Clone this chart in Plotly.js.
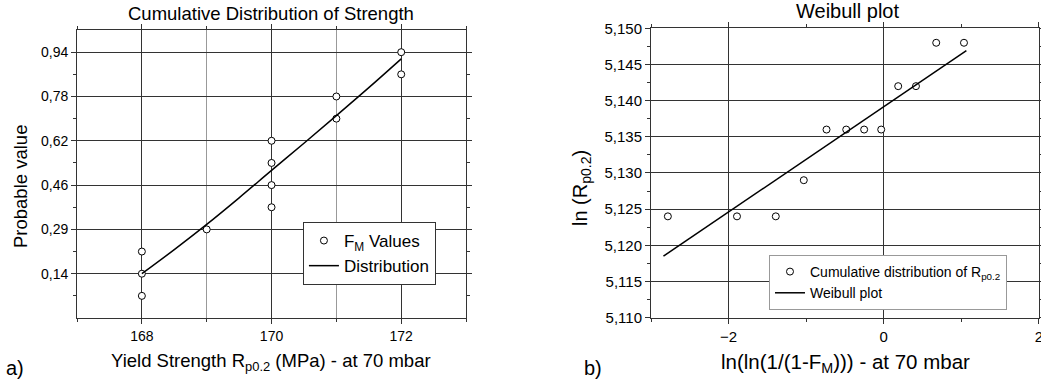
<!DOCTYPE html>
<html><head><meta charset="utf-8">
<script src="https://cdn.plot.ly/plotly-3.0.1.min.js"></script>
<style>html,body{margin:0;padding:0;background:#fff;}#chart{width:1041px;height:385px;}</style>
</head><body><div id="chart"></div>
<script>
// Panel a) data
const strengthX = [168,168,168,169,170,170,170,170,171,171,172,172];
const fmValues  = [0.06,0.14,0.22,0.30,0.38,0.46,0.54,0.62,0.70,0.78,0.86,0.94];
const distX = [168,168.5,169,169.5,170,170.5,171,171.5,172];
const distY = [0.14,0.227,0.318,0.414,0.513,0.611,0.711,0.812,0.916];
const aYTickVals = [0.14,0.30,0.46,0.62,0.78,0.94];
const aYTickText = ['0,14','0,29','0,46','0,62','0,78','0,94'];
const aXTickVals = [168,170,172];

// Panel b) data
const weibX = [-2.783,-1.892,-1.392,-1.031,-0.738,-0.484,-0.253,-0.033,0.186,0.415,0.676,1.034];
const weibY = [5.124,5.124,5.124,5.129,5.136,5.136,5.136,5.136,5.142,5.142,5.148,5.148];
const fitX = [-2.84,1.065];
const fitY = [5.1185,5.1469];

const FONT = 'Arial, "Liberation Sans", sans-serif';
const frame = {showline:true, linecolor:'#333', linewidth:1, mirror:'allticks', ticks:'outside', ticklen:5, tickcolor:'#333', zeroline:false, ticklabeloverflow:'allow'};

const traces = [
  {x:strengthX, y:fmValues, type:'scatter', mode:'markers', name:'F<sub>M</sub> Values', xaxis:'x', yaxis:'y',
   marker:{symbol:'circle', size:7, color:'#fff', line:{color:'#000', width:1}}, legend:'legend'},
  {x:distX, y:distY, type:'scatter', mode:'lines', name:'Distribution', xaxis:'x', yaxis:'y',
   line:{color:'#000', width:1.5, shape:'spline'}, legend:'legend'},
  {x:weibX, y:weibY, type:'scatter', mode:'markers', name:'Cumulative distribution of R<sub>p0.2</sub>', xaxis:'x2', yaxis:'y2',
   marker:{symbol:'circle', size:7, color:'#fff', line:{color:'#000', width:1}}, legend:'legend2'},
  {x:fitX, y:fitY, type:'scatter', mode:'lines', name:'Weibull plot', xaxis:'x2', yaxis:'y2',
   line:{color:'#000', width:1.5}, legend:'legend2'}
];

const layout = {
  width:1041, height:385, margin:{l:0,r:0,t:0,b:0},
  paper_bgcolor:'#fff', plot_bgcolor:'#fff', separators:', ',
  font:{family:FONT, color:'#000', size:14},
  showlegend:true,
  xaxis: Object.assign({}, frame, {domain:[0.074,0.4477], range:[167,173], tickvals:aXTickVals, anchor:'y',
    showgrid:true, gridcolor:'#333', gridwidth:1, tickfont:{size:14},
    minor:{tickmode:'linear', tick0:167, dtick:1, ticks:'outside', ticklen:3, tickcolor:'#333', showgrid:true, gridcolor:'#999', gridwidth:1}}),
  yaxis: Object.assign({}, frame, {domain:[0.174,0.922], range:[-0.02,1.02], tickvals:aYTickVals, ticktext:aYTickText, anchor:'x',
    showgrid:true, gridcolor:'#333', gridwidth:1, tickfont:{size:14},
    minor:{tickmode:'array', tickvals:[0.06,0.22,0.38,0.54,0.70,0.86], ticks:'outside', ticklen:3, tickcolor:'#333', showgrid:false}}),
  xaxis2: Object.assign({}, frame, {domain:[0.6254,0.998], range:[-3,2], tickmode:'linear', tick0:-2, dtick:2, anchor:'y2',
    showgrid:true, gridcolor:'#333', gridwidth:1, tickfont:{size:15},
    minor:{tickmode:'linear', tick0:-3, dtick:1, ticks:'outside', ticklen:3, tickcolor:'#333', showgrid:false}}),
  yaxis2: Object.assign({}, frame, {domain:[0.175,0.9265], range:[5.110,5.150], tickmode:'linear', tick0:5.110, dtick:0.005, tickformat:'.3f', anchor:'x2',
    showgrid:true, gridcolor:'#333', gridwidth:1, tickfont:{size:15},
    minor:{tickmode:'linear', tick0:5.1125, dtick:0.005, ticks:'outside', ticklen:3, tickcolor:'#333', showgrid:false}}),
  legend:{x:0.291, y:1-222/385, xanchor:'left', yanchor:'top', bgcolor:'#fff', bordercolor:'#333', borderwidth:1,
    font:{size:17, family:FONT}, tracegroupgap:0},
  legend2:{x:0.7387, y:0.3377, xanchor:'left', yanchor:'top', bgcolor:'#fff', bordercolor:'#999', borderwidth:1,
    font:{size:14, family:FONT}, tracegroupgap:0},
  annotations:[
    {text:'Cumulative Distribution of Strength', xref:'paper', yref:'paper', x:0.2608, y:1-13/385, xanchor:'center', yanchor:'middle', showarrow:false, font:{size:18.5}},
    {text:'Weibull plot', xref:'paper', yref:'paper', x:847/1041, y:1-11/385, xanchor:'center', yanchor:'middle', showarrow:false, font:{size:20}},
    {text:'Probable value', xref:'paper', yref:'paper', x:20/1041, y:1-187/385, xanchor:'center', yanchor:'middle', textangle:-90, showarrow:false, font:{size:18.5}},
    {text:'ln (R<sub>p0.2</sub>)', xref:'paper', yref:'paper', x:582/1041, y:1-188/385, xanchor:'center', yanchor:'middle', textangle:-90, showarrow:false, font:{size:20}},
    {text:'Yield Strength R<sub>p0.2</sub> (MPa) - at 70 mbar', xref:'paper', yref:'paper', x:271/1041, y:1-362/385, xanchor:'center', yanchor:'middle', showarrow:false, font:{size:18.5}},
    {text:'ln(ln(1/(1-F<sub>M</sub>))) - at 70 mbar', xref:'paper', yref:'paper', x:845/1041, y:1-363/385, xanchor:'center', yanchor:'middle', showarrow:false, font:{size:20.5}},
    {text:'a)', xref:'paper', yref:'paper', x:15/1041, y:1-368/385, xanchor:'center', yanchor:'middle', showarrow:false, font:{size:20}},
    {text:'b)', xref:'paper', yref:'paper', x:593/1041, y:1-368/385, xanchor:'center', yanchor:'middle', showarrow:false, font:{size:20}}
  ]
};

Plotly.newPlot('chart', traces, layout, {displayModeBar:false, staticPlot:true});
</script>
</body></html>
